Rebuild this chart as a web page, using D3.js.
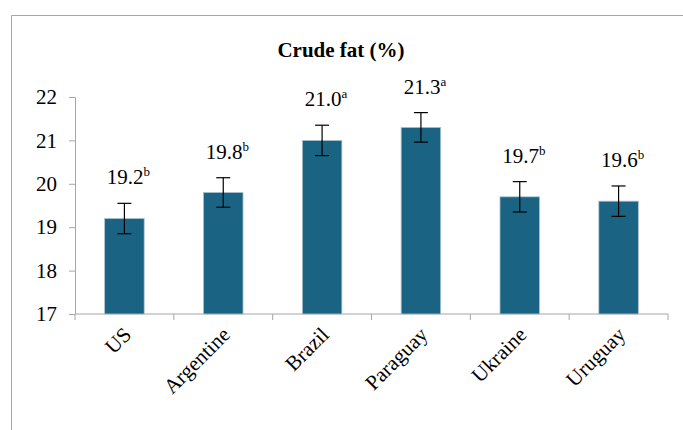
<!DOCTYPE html>
<html>
<head>
<meta charset="utf-8">
<script src="https://cdn.jsdelivr.net/npm/d3@7"></script>
<style>
  body { margin: 0; background: #fff; }
  svg text { font-family: "Liberation Serif", Tinos, "Times New Roman", Times, "DejaVu Serif", serif; }
</style>
</head>
<body>
<div id="chart"></div>
<script>
// values
const countries = ['US', 'Argentine', 'Brazil', 'Paraguay', 'Ukraine', 'Uruguay'];
const fat = [19.2, 19.8, 21.0, 21.3, 19.7, 19.6];
const errors = [0.35, 0.34, 0.35, 0.34, 0.35, 0.35];
const letters = ['b', 'b', 'a', 'a', 'b', 'b'];
const yTicks = [17, 18, 19, 20, 21, 22];

var serif = '"Liberation Serif", Tinos, "Times New Roman", Times, "DejaVu Serif", serif';

var W = 683, H = 430;
var margin = { top: 97, right: 15, bottom: 116, left: 75 },
    width = W - margin.left - margin.right,
    height = H - margin.top - margin.bottom;

var svg = d3.select('#chart').append('svg')
    .attr('width', W)
    .attr('height', H)
    .attr('font-family', serif);

// outer chart frame (only top and left edges show in the crop)
svg.append('path')
    .attr('d', 'M11.5,' + H + 'V15.5H' + W)
    .attr('fill', 'none')
    .attr('stroke', '#a6a6a6')
    .attr('stroke-width', 1);

svg.append('text')
    .attr('x', 341)
    .attr('y', 57)
    .attr('text-anchor', 'middle')
    .attr('font-family', serif)
    .style('font-weight', 'bold')
    .style('font-size', '21px')
    .text('Crude fat (%)');

var g = svg.append('g')
    .attr('transform', 'translate(' + margin.left + ',' + margin.top + ')');

var x = d3.scaleBand()
    .domain(countries)
    .range([0, width])
    .paddingInner(0.6)
    .paddingOuter(0.3);

var y = d3.scaleLinear()
    .domain([17, 22])
    .range([height, 0]);

// y axis
var yAxis = g.append('g')
    .call(d3.axisLeft(y).tickValues(yTicks).tickFormat(d3.format('d'))
        .tickSize(6).tickSizeOuter(0).tickPadding(12));
yAxis.attr('font-family', serif);
yAxis.select('.domain').attr('stroke', '#a6a6a6');
yAxis.selectAll('.tick line').attr('stroke', '#a6a6a6');
yAxis.selectAll('.tick text')
    .attr('fill', '#000')
    .style('font-size', '21px');

// x axis with ticks on category boundaries
var xAxisG = g.append('g')
    .attr('transform', 'translate(0,' + height + ')');
xAxisG.append('line')
    .attr('x1', 0).attr('x2', width)
    .attr('stroke', '#a6a6a6');
var bounds = d3.range(countries.length + 1).map(i => i * width / countries.length);
xAxisG.selectAll('.bt')
    .data(bounds)
    .join('line')
    .attr('class', 'bt')
    .attr('x1', d => d).attr('x2', d => d)
    .attr('y1', 0).attr('y2', 6)
    .attr('stroke', '#a6a6a6');

xAxisG.selectAll('.xl')
    .data(countries)
    .join('text')
    .attr('class', 'xl')
    .attr('text-anchor', 'end')
    .attr('transform', d => 'translate(' + (x(d) + x.bandwidth() / 2 + 8) + ',22) rotate(-45)')
    .style('font-size', '21px')
    .text(d => d);

// bars
g.selectAll('.bar')
    .data(countries)
    .join('rect')
    .attr('class', 'bar')
    .attr('x', d => x(d))
    .attr('width', x.bandwidth())
    .attr('y', (d, i) => y(fat[i]))
    .attr('height', (d, i) => height - y(fat[i]))
    .attr('fill', '#1b6382')
    .attr('stroke', '#a9c3d0')
    .attr('stroke-width', 0.8);

// error bars
var cap = 7;
var err = g.selectAll('.err')
    .data(countries)
    .join('g')
    .attr('class', 'err')
    .attr('transform', d => 'translate(' + (x(d) + x.bandwidth() / 2) + ',0)')
    .attr('stroke', '#000')
    .attr('stroke-width', 1.2);
err.append('line')
    .attr('y1', (d, i) => y(fat[i] + errors[i]))
    .attr('y2', (d, i) => y(fat[i] - errors[i]));
err.append('line')
    .attr('x1', -cap).attr('x2', cap)
    .attr('y1', (d, i) => y(fat[i] + errors[i]))
    .attr('y2', (d, i) => y(fat[i] + errors[i]));
err.append('line')
    .attr('x1', -cap).attr('x2', cap)
    .attr('y1', (d, i) => y(fat[i] - errors[i]))
    .attr('y2', (d, i) => y(fat[i] - errors[i]));

// value labels with significance letters
var lab = g.selectAll('.val')
    .data(countries)
    .join('text')
    .attr('class', 'val')
    .attr('x', d => x(d) + x.bandwidth() / 2 + 4)
    .attr('y', (d, i) => y(fat[i] + errors[i]) - 19)
    .attr('text-anchor', 'middle')
    .style('font-size', '21px');
lab.append('tspan').text((d, i) => fat[i].toFixed(1));
lab.append('tspan')
    .attr('dy', -8)
    .style('font-size', '13px')
    .text((d, i) => letters[i]);
</script>
</body>
</html>
